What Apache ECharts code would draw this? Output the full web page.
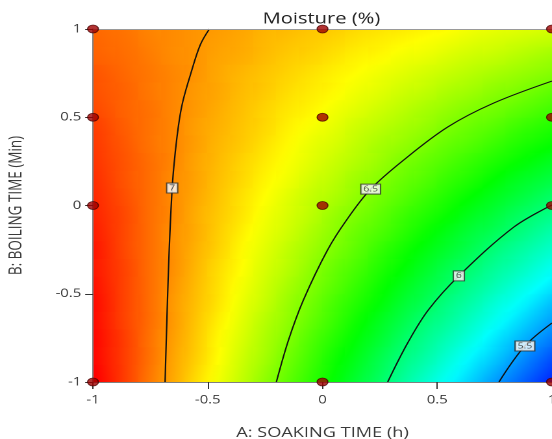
<!DOCTYPE html>
<html lang="en">
<head>
<meta charset="UTF-8">
<title>Moisture (%)</title>
<style>
  * { margin: 0; padding: 0; }
  html, body { width: 100%; height: 100%; background: #fff; }
  #wrap { width: 552px; height: 439px; overflow: hidden; }
  /* the reference is a horizontally stretched picture, so draw narrow and stretch */
  #chart { width: 425px; height: 439px; transform: scaleX(1.2988); transform-origin: 0 0; }
</style>
</head>
<body>
<div id="wrap"><div id="chart"></div></div>
<script src="https://cdn.jsdelivr.net/npm/echarts@6.0.0/dist/echarts.min.js"></script>
<script>
// cell centres of the colour field (coded units)
var soakCells = [-0.95,-0.85,-0.75,-0.65,-0.55,-0.45,-0.35,-0.25,-0.15,-0.05,
                 0.05,0.15,0.25,0.35,0.45,0.55,0.65,0.75,0.85,0.95];
var boilCells = soakCells.slice();

var moistureRows = [
  [7.26,7.16,7.05,6.95,6.85,6.75,6.65,6.55,6.45,6.35,6.25,6.15,6.05,5.94,5.84,5.74,5.64,5.54,5.44,5.34],
  [7.25,7.16,7.06,6.96,6.87,6.77,6.67,6.58,6.48,6.38,6.28,6.19,6.09,5.99,5.90,5.80,5.70,5.61,5.51,5.41],
  [7.25,7.16,7.06,6.97,6.88,6.78,6.69,6.60,6.51,6.41,6.32,6.23,6.14,6.04,5.95,5.86,5.77,5.67,5.58,5.49],
  [7.24,7.15,7.07,6.98,6.89,6.80,6.71,6.62,6.54,6.45,6.36,6.27,6.18,6.09,6.00,5.92,5.83,5.74,5.65,5.56],
  [7.24,7.15,7.07,6.98,6.90,6.82,6.73,6.65,6.56,6.48,6.39,6.31,6.23,6.14,6.06,5.97,5.89,5.80,5.72,5.63],
  [7.23,7.15,7.07,6.99,6.91,6.83,6.75,6.67,6.59,6.51,6.43,6.35,6.27,6.19,6.11,6.03,5.95,5.87,5.79,5.71],
  [7.22,7.15,7.07,7.00,6.92,6.84,6.77,6.69,6.62,6.54,6.46,6.39,6.31,6.24,6.16,6.08,6.01,5.93,5.86,5.78],
  [7.22,7.14,7.07,7.00,6.93,6.86,6.78,6.71,6.64,6.57,6.50,6.43,6.35,6.28,6.21,6.14,6.07,5.99,5.92,5.85],
  [7.21,7.14,7.07,7.00,6.94,6.87,6.80,6.73,6.67,6.60,6.53,6.46,6.40,6.33,6.26,6.19,6.12,6.06,5.99,5.92],
  [7.20,7.14,7.07,7.01,6.94,6.88,6.82,6.75,6.69,6.63,6.56,6.50,6.44,6.37,6.31,6.25,6.18,6.12,6.05,5.99],
  [7.19,7.13,7.07,7.01,6.95,6.89,6.83,6.77,6.71,6.65,6.60,6.54,6.48,6.42,6.36,6.30,6.24,6.18,6.12,6.06],
  [7.18,7.12,7.07,7.01,6.96,6.90,6.85,6.79,6.74,6.68,6.63,6.57,6.52,6.46,6.41,6.35,6.30,6.24,6.18,6.13],
  [7.17,7.12,7.07,7.02,6.96,6.91,6.86,6.81,6.76,6.71,6.66,6.61,6.56,6.50,6.45,6.40,6.35,6.30,6.25,6.20],
  [7.16,7.11,7.06,7.02,6.97,6.92,6.88,6.83,6.78,6.73,6.69,6.64,6.59,6.55,6.50,6.45,6.41,6.36,6.31,6.27],
  [7.15,7.10,7.06,7.02,6.97,6.93,6.89,6.85,6.80,6.76,6.72,6.67,6.63,6.59,6.55,6.50,6.46,6.42,6.37,6.33],
  [7.13,7.09,7.06,7.02,6.98,6.94,6.90,6.86,6.82,6.79,6.75,6.71,6.67,6.63,6.59,6.55,6.51,6.48,6.44,6.40],
  [7.12,7.09,7.05,7.02,6.98,6.95,6.91,6.88,6.84,6.81,6.78,6.74,6.71,6.67,6.64,6.60,6.57,6.53,6.50,6.46],
  [7.11,7.08,7.05,7.02,6.99,6.95,6.92,6.89,6.86,6.83,6.80,6.77,6.74,6.71,6.68,6.65,6.62,6.59,6.56,6.53],
  [7.09,7.07,7.04,7.01,6.99,6.96,6.94,6.91,6.88,6.86,6.83,6.80,6.78,6.75,6.73,6.70,6.67,6.65,6.62,6.59],
  [7.08,7.06,7.03,7.01,6.99,6.97,6.95,6.92,6.90,6.88,6.86,6.83,6.81,6.79,6.77,6.75,6.72,6.70,6.68,6.66]
];

// contour lines [A, B]
var contour7 = [[-0.493,1.0],[-0.533,0.909],[-0.576,0.739],[-0.607,0.598],[-0.624,0.484],
                [-0.642,0.297],[-0.655,0.099],[-0.668,-0.252],[-0.677,-0.6],[-0.686,-1.0]];
var contour65 = [[1.0,0.705],[0.747,0.581],[0.546,0.445],[0.354,0.258],[0.210,0.093],
                 [0.105,-0.082],[0.022,-0.252],[-0.083,-0.535],[-0.148,-0.762],[-0.201,-1.0]];
var contour6 = [[1.0,0.003],[0.834,-0.122],[0.594,-0.399],[0.461,-0.592],[0.371,-0.779],[0.284,-1.0]];
var contour55 = [[1.0,-0.666],[0.882,-0.796],[0.769,-1.0]];

var contourLabels = [[-0.655,0.099,'7'],[0.210,0.093,'6.5'],[0.594,-0.399,'6'],[0.882,-0.796,'5.5']];

// design points
var designPoints = [[-1,1],[0,1],[1,1],[-1,0.5],[0,0.5],[1,0.5],[-1,0],[0,0],[1,0],[-1,-1],[0,-1],[1,-1]];

// colour scale: blue (low) -> cyan -> green -> yellow -> red (high)
var scaleMin = 5.18, scaleMax = 7.3;
var scaleColors = [[0,0,255],[0,255,255],[0,255,0],[255,255,0],[255,0,0]];

function moistureColor(v) {
  var t = (v - scaleMin) / (scaleMax - scaleMin);
  t = Math.max(0, Math.min(1, t)) * (scaleColors.length - 1);
  var k = Math.min(Math.floor(t), scaleColors.length - 2);
  var f = t - k, c0 = scaleColors[k], c1 = scaleColors[k + 1];
  return 'rgb(' + [0, 1, 2].map(function (n) { return Math.round(c0[n] + (c1[n] - c0[n]) * f); }).join(',') + ')';
}

// each cell: [A, B, moisture, dM/dA, dM/dB] (slopes only shade the cell smoothly)
var cellData = [];
moistureRows.forEach(function (row, j) {
  row.forEach(function (v, i) {
    var iL = Math.max(i - 1, 0), iR = Math.min(i + 1, row.length - 1);
    var jD = Math.max(j - 1, 0), jU = Math.min(j + 1, moistureRows.length - 1);
    var ga = (row[iR] - row[iL]) / (soakCells[iR] - soakCells[iL]);
    var gb = (moistureRows[jU][i] - moistureRows[jD][i]) / (boilCells[jU] - boilCells[jD]);
    cellData.push([soakCells[i], boilCells[j], v, ga, gb]);
  });
});

function renderCell(params, api) {
  var a = api.value(0), b = api.value(1), v = api.value(2);
  var p0 = api.coord([a - 0.05, b + 0.05]);
  var p1 = api.coord([a + 0.05, b - 0.05]);
  var x = p0[0] - 0.5, y = p0[1] - 0.5;
  var w = p1[0] - p0[0] + 1, h = p1[1] - p0[1] + 1;
  var unit = api.size([1, 1]);
  var gx = api.value(3) / unit[0], gy = -api.value(4) / unit[1];
  var g = Math.sqrt(gx * gx + gy * gy) || 1e-6;
  var dx = gx / g, dy = gy / g;
  var half = Math.sqrt(w * w + h * h) / 2;
  var cx = x + w / 2, cy = y + h / 2;
  var stops = [];
  for (var k = 0; k <= 4; k++) {
    stops.push({ offset: k / 4, color: moistureColor(v + (k / 2 - 1) * g * half) });
  }
  return {
    type: 'rect',
    shape: { x: x, y: y, width: w, height: h },
    style: {
      fill: {
        type: 'linear', global: true, colorStops: stops,
        x: cx - dx * half, y: cy - dy * half, x2: cx + dx * half, y2: cy + dy * half
      }
    }
  };
}

function contourSeries(data) {
  return {
    type: 'line', data: data, smooth: 0.35, symbol: 'none', silent: true, z: 3,
    lineStyle: { color: '#111', width: 1.1 }
  };
}

var font = '"Open Sans", "DejaVu Sans", sans-serif';
var frame = {
  type: 'value', min: -1, max: 1, z: 5,
  axisLine: { show: true, onZero: false, lineStyle: { color: '#9a9a9a' } },
  axisTick: { show: false }, axisLabel: { show: false }, splitLine: { show: false }
};

var chart = echarts.init(document.getElementById('chart'), null, { devicePixelRatio: 2 });
chart.setOption({
  animation: false,
  textStyle: { fontFamily: font },
  title: {
    text: 'Moisture (%)', left: 242.5, top: 6, textAlign: 'center',
    textStyle: { fontSize: 15.5, fontWeight: 'normal', color: '#222', fontFamily: font }
  },
  grid: { left: 71.6, right: 0, top: 29, bottom: 57, outerBoundsMode: 'none', containLabel: false },
  xAxis: [{
    type: 'value', min: -1, max: 1, interval: 0.5, z: 5,
    name: 'A: SOAKING TIME (h)', nameLocation: 'middle', nameGap: 44,
    nameTextStyle: { color: '#3a3a3a', fontSize: 14 },
    axisLine: { show: true, onZero: false, lineStyle: { color: '#808080' } },
    axisTick: { show: true, length: 7, lineStyle: { color: '#333' } },
    axisLabel: { color: '#3a3a3a', fontSize: 11.5, margin: 12 },
    splitLine: { show: false }
  }, Object.assign({ position: 'top' }, frame)],
  yAxis: [{
    type: 'value', min: -1, max: 1, interval: 0.5, z: 5,
    name: 'B: BOILING TIME (Min)', nameLocation: 'middle', nameGap: 52, nameRotate: 90,
    nameTextStyle: { color: '#3a3a3a', fontSize: 13.5 },
    axisLine: { show: true, onZero: false, lineStyle: { color: '#808080' } },
    axisTick: { show: true, length: 6, lineStyle: { color: '#333' } },
    axisLabel: { color: '#3a3a3a', fontSize: 11.5, margin: 9 },
    splitLine: { show: false }
  }, Object.assign({ position: 'right' }, frame)],
  series: [{
    type: 'custom', data: cellData, renderItem: renderCell,
    silent: true, z: 1, clip: true
  },
  contourSeries(contour7),
  contourSeries(contour65),
  contourSeries(contour6),
  contourSeries(contour55),
  {
    type: 'scatter', data: contourLabels, symbolSize: 0, silent: true, z: 4,
    label: {
      show: true, position: 'inside', formatter: function (p) { return p.value[2]; },
      fontSize: 8, color: '#222', backgroundColor: '#fff',
      borderColor: '#333', borderWidth: 1, padding: [1, 1.5, 0, 1.5]
    }
  }, {
    type: 'scatter', data: designPoints,
    symbol: 'circle', symbolSize: [8.4, 8], clip: false, silent: true, z: 6,
    itemStyle: { color: '#9e0000', borderColor: '#460000', borderWidth: 0.8 }
  }]
});
</script>
</body>
</html>
